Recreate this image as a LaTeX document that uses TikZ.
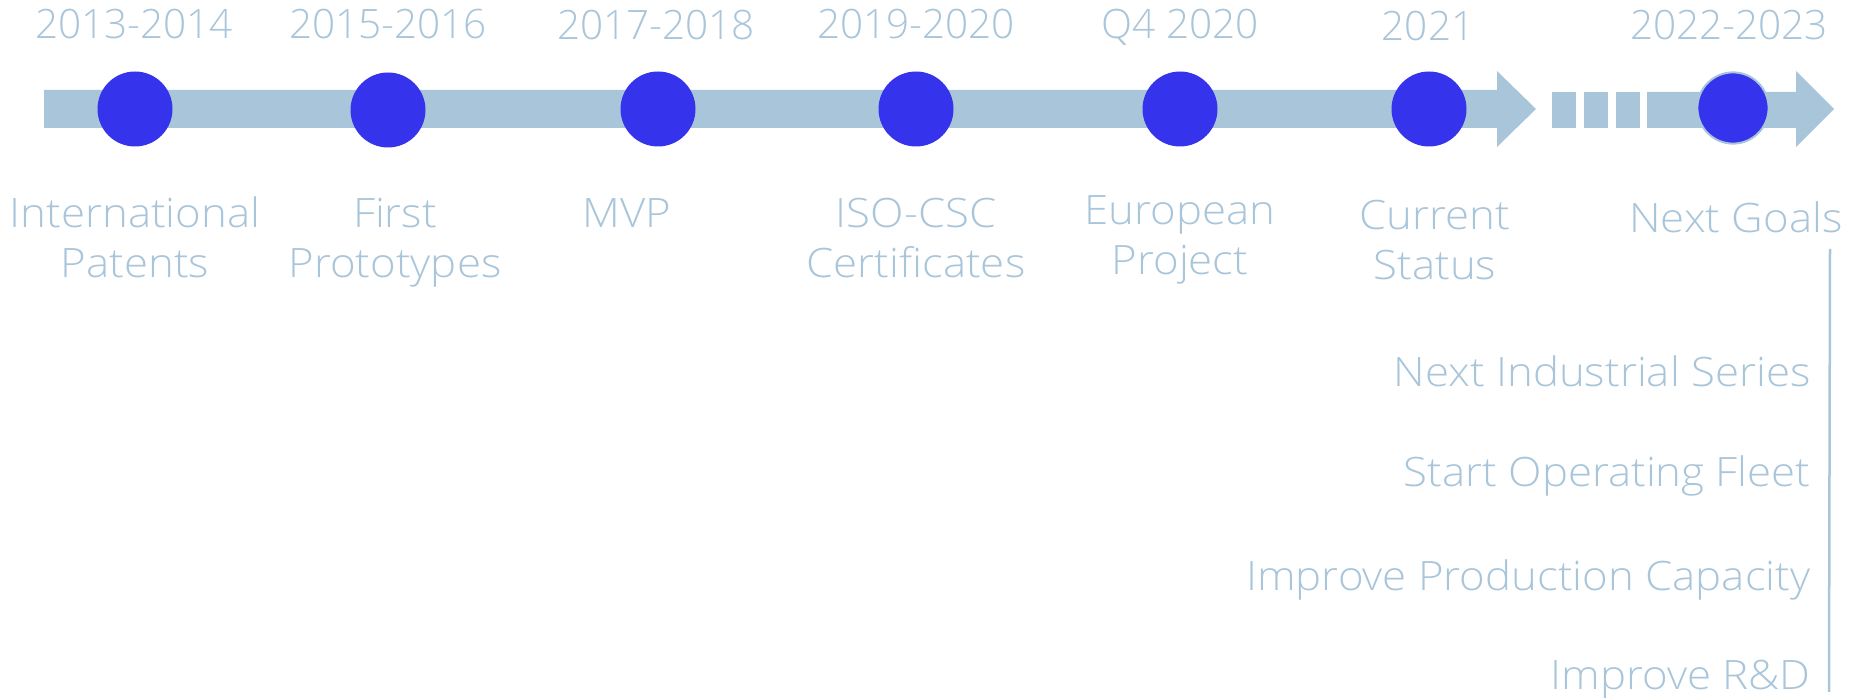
\documentclass[tikz,border=0pt]{standalone}
\usepackage{fontspec}
\setmainfont{Open Sans}[UprightFont={* Light}]
\newfontfamily\widefont{Open Sans}[UprightFont={* Light},FakeStretch=1.08]
\definecolor{barblue}{RGB}{169,197,218}
\definecolor{dotblue}{RGB}{53,52,236}

\begin{document}
\begin{tikzpicture}[x=0.4pt,y=-0.4pt,
    dot/.style={circle,fill=dotblue,minimum size=30pt,inner sep=0pt},
    txt/.style={text=barblue,font=\fontsize{16.2}{20}\selectfont,inner sep=0pt,anchor=base},
    lbl/.style={txt,align=center,font=\widefont\fontsize{16.2}{20}\selectfont},
    goal/.style={lbl,anchor=base east}]
    \useasboundingbox (0,0) rectangle (1856,698);

    %Shape: Arrow [id:bar1]
    \fill[barblue] (44,90) -- (1497,90) -- (1497,71) -- (1536,109) -- (1497,147) -- (1497,128) -- (44,128) -- cycle;
    %Shape: Rectangles [id:gap]
    \foreach \x in {1552,1584,1616}
        \fill[barblue] (\x,92) rectangle ++(24,36);
    %Shape: Arrow [id:bar2]
    \fill[barblue] (1647,92) -- (1796,92) -- (1796,71) -- (1834,109) -- (1796,147) -- (1796,128) -- (1647,128) -- cycle;

    %Shape: Circles
    \node[dot] (d1) at (135,109) {};
    \node[dot] (d2) at (388,110) {};
    \node[dot] (d3) at (658,109) {};
    \node[dot] (d4) at (916,109) {};
    \node[dot] (d5) at (1180,109) {};
    \node[dot] (d6) at (1429,109) {};
    \node[dot,minimum size=28.5pt,draw=barblue,line width=0.8pt] (d7) at (1733,108) {};

    % Text Node
    \node[txt] (y1) at (134,39) {2013-2014};
    \node[txt] (y2) at (388,39) {2015-2016};
    \node[txt] (y3) at (656,40) {2017-2018};
    \node[txt] (y4) at (916,39) {2019-2020};
    \node[txt] (y5) at (1180,39) {Q4 2020};
    \node[txt] (y6) at (1428,41) {2021};
    \node[txt] (y7) at (1729,40) {2022-2023};

    % Text Node (base = last line)
    \node[lbl] (l1) at (135,278) {International\\Patents};
    \node[lbl] (l2) at (395,278) {First\\Prototypes};
    \node[lbl] (l3) at (627,228) {MVP};
    \node[lbl] (l4) at (916,278) {ISO-CSC\\Certificates};
    \node[lbl] (l5) at (1180,275) {European\\Project};
    \node[lbl] (l6) at (1435,280) {Current\\Status};
    \node[lbl] (l7) at (1736,233) {Next Goals};

    % Text Node
    \node[goal] (g1) at (1811,387) {Next Industrial Series};
    \node[goal] (g2) at (1811,487) {Start Operating Fleet};
    \node[goal] (g3) at (1811,591) {Improve Production Capacity};
    \node[goal] (g4) at (1811,690) {Improve R\&D};

    %Straight Lines [id:goalline]
    \coordinate (gtop) at (1830,249);
    \coordinate (gbot) at (1829,692);
    \draw[barblue,line width=1pt] (gtop) -- (gbot);
\end{tikzpicture}
\end{document}
